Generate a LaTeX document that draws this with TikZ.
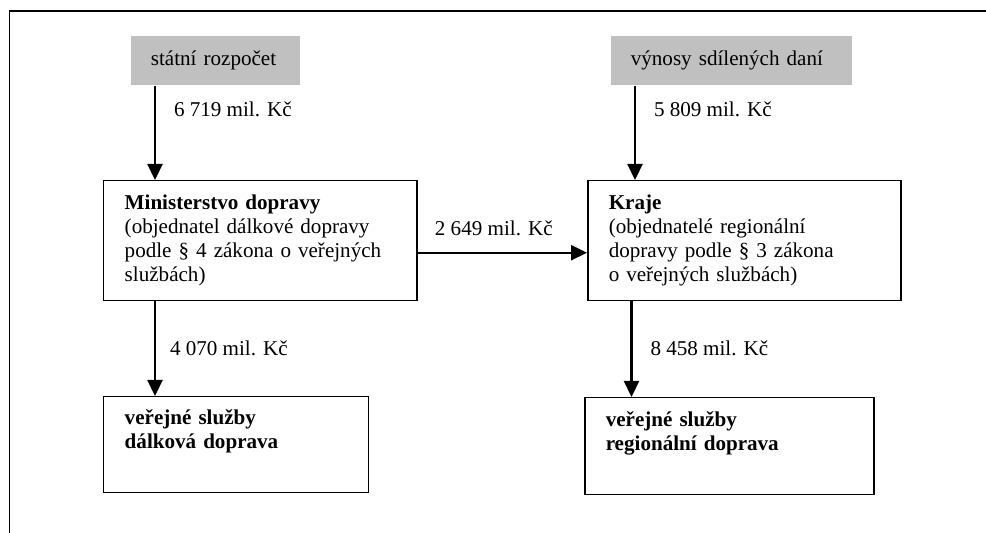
\documentclass[tikz,border=0pt]{standalone}
\usepackage{fontspec}
\setmainfont{Liberation Serif}
\usepackage{tikz}
\usetikzlibrary{positioning,arrows.meta}
\definecolor{sediva}{HTML}{C0C0C0}

\begin{document}
\begin{tikzpicture}[
  font=\fontsize{12pt}{13.66pt}\selectfont,
  zdroj/.style={fill=sediva, anchor=north west, align=left, inner xsep=0.39cm, minimum height=0.98cm},
  box/.style={draw, line width=0.85pt, anchor=north west, align=left, inner xsep=0.42cm},
  cil/.style={box, font=\fontsize{12pt}{13.66pt}\selectfont\bfseries},
  tok/.style={line width=1.3pt, -{Triangle[width=0.3cm,length=0.32cm]}}
]

 \useasboundingbox (0,0) rectangle (19.72,10.66);
 \draw[line width=1.1pt] (0.19,0) |- (19.72,10.44);

 \node[zdroj, text width=2.6cm] (rozpocet) at (2.62,9.94) {státní rozpočet};
 \node[zdroj, text width=4.04cm] (vynosy) at (12.22,9.94) {výnosy sdílených daní};

 \node[box, text width=5.42cm, minimum height=2.4cm] (mdop) at (2.06,7.06)
   {\textbf{Ministerstvo dopravy}\\(objednatel dálkové dopravy\\podle § 4 zákona o veřejných\\službách)};
 \node[box, text width=5.42cm, minimum height=2.4cm] (kraje) at (11.74,7.06)
   {\textbf{Kraje}\\(objednatelé regionální\\dopravy podle § 3 zákona\\o veřejných službách)};

 \node[cil, text width=4.46cm, minimum height=1.92cm] (dalkova) at (2.06,2.74)
   {veřejné služby\\dálková doprava\\\strut};
 \node[cil, text width=4.94cm, minimum height=1.94cm] (regionalni) at (11.68,2.72)
   {veřejné služby\\regionální doprava\\\strut};

 \draw[tok] ([xshift=0.48cm]rozpocet.south west) -- ([xshift=0.48cm]rozpocet.south west |- mdop.north)
   node[right=0.24cm, pos=0.25] {6 719 mil. Kč};
 \draw[tok] ([xshift=0.48cm]vynosy.south west) -- ([xshift=0.48cm]vynosy.south west |- kraje.north)
   node[right=0.24cm, pos=0.25] {5 809 mil. Kč};

 \draw[tok] ([yshift=-0.24cm]mdop.east) -- ([yshift=-0.24cm]kraje.west)
   node[above=0.19cm, pos=0.45] {2 649 mil. Kč};

 \draw[tok] ([xshift=1.04cm]mdop.south west) -- ([xshift=1.04cm]mdop.south west |- dalkova.north)
   node[right=0.16cm, pos=0.5] {4 070 mil. Kč};
 \draw[tok] ([xshift=0.89cm]kraje.south west) -- ([xshift=0.89cm]kraje.south west |- regionalni.north)
   node[right=0.24cm, pos=0.49] {8 458 mil. Kč};

\end{tikzpicture}
\end{document}
